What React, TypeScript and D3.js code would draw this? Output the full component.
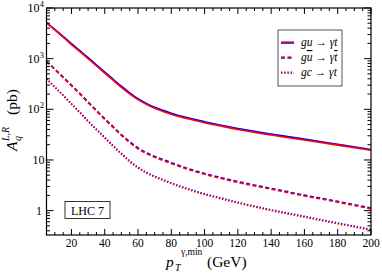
import React from "react";
import * as d3 from "d3";

const ptValues = [5, 10, 15, 20, 25, 30, 35, 40, 45, 50, 55, 60, 65, 70, 75, 80, 90, 100, 110, 120, 140, 160, 180, 200];

const guRed = [5100, 3700, 2650, 1900, 1380, 1000, 720, 520, 375, 272, 202, 155, 125, 105, 91, 80, 65, 54.5, 46.5, 40, 31, 24.7, 19.6, 15.5];
const guBlue = [5150, 3780, 2740, 1980, 1440, 1050, 755, 545, 393, 286, 212, 162, 131, 110, 95.5, 84, 68, 57, 48.5, 41.8, 32.4, 25.8, 20.4, 16.1];

const gubarRed = [880, 610, 420, 290, 200, 135, 92, 63, 44, 30.5, 22, 16.6, 13.4, 11.3, 9.8, 8.5, 6.5, 5.2, 4.3, 3.6, 2.65, 1.95, 1.47, 1.08];
const gubarBlue = [890, 625, 433, 300, 207, 140, 95.5, 65.5, 45.8, 31.7, 22.9, 17.3, 13.9, 11.7, 10.2, 8.85, 6.75, 5.4, 4.46, 3.74, 2.75, 2.02, 1.52, 1.12];

const gcRed = [400, 270, 185, 125, 85, 57, 39, 27, 18.5, 13, 9.2, 6.9, 5.5, 4.6, 3.95, 3.4, 2.6, 2.07, 1.7, 1.41, 1.0, 0.74, 0.55, 0.41];
const gcBlue = [405, 276, 190, 129, 88, 59, 40.5, 28, 19.2, 13.5, 9.6, 7.2, 5.7, 4.78, 4.1, 3.53, 2.7, 2.15, 1.77, 1.46, 1.04, 0.77, 0.57, 0.425];

const xMajorTicks = [20, 40, 60, 80, 100, 120, 140, 160, 180, 200];
const yDecades = [1, 10, 100, 1000, 10000];

const W = 382;
const H = 273;
const L = 46.5, R = 371, T = 8, B = 235;
const FONT = "'Liberation Serif', 'Times New Roman', 'DejaVu Serif', serif";

export default function App() {
  const x = d3.scaleLinear().domain([5, 200]).range([L, R]);
  const y = d3.scaleLog().domain([0.33, 1e4]).range([B, T]);

  const mk = (vals: number[]) =>
    d3
      .line<number>()
      .x((_, i) => x(ptValues[i]))
      .y((v) => y(v))
      .curve(d3.curveMonotoneX)(vals) as string;

  const xMinor: number[] = [];
  for (let v = 5; v <= 200; v += 5) if (v % 20 !== 0) xMinor.push(v);
  const yMinor: number[] = [];
  [0.1, 1, 10, 100, 1000].forEach((d) => {
    for (let k = 2; k <= 9; k++) {
      const v = d * k;
      if (v >= 0.33 && v <= 1e4) yMinor.push(v);
    }
  });

  const series = [
    { red: guRed, blue: guBlue, dash: undefined },
    { red: gubarRed, blue: gubarBlue, dash: "4,2.5" },
    { red: gcRed, blue: gcBlue, dash: "1.4,1.8" },
  ];

  const legendY = [42, 57, 72];

  return (
    <svg width={W} height={H} style={{ display: "block", position: "absolute", left: 0, top: 0 }} fontFamily={FONT}>
      <rect x={0} y={0} width={W} height={H} fill="#fff" />
      <defs>
        <clipPath id="plot">
          <rect x={L} y={T} width={R - L} height={B - T} />
        </clipPath>
      </defs>

      <g clipPath="url(#plot)">
        {series.map((s, i) => (
          <g key={i}>
            <path d={mk(s.blue)} fill="none" stroke="#0000ff" strokeWidth={1.6} strokeDasharray={s.dash} />
            <path d={mk(s.red)} fill="none" stroke="#ff0000" strokeWidth={1.6} strokeDasharray={s.dash} />
          </g>
        ))}
      </g>

      {/* ticks */}
      <g stroke="#000" strokeWidth={1}>
        {xMajorTicks.map((v) => (
          <g key={"xm" + v}>
            <line x1={x(v)} x2={x(v)} y1={B} y2={B - 6} />
            <line x1={x(v)} x2={x(v)} y1={T} y2={T + 6} />
          </g>
        ))}
        {xMinor.map((v) => (
          <g key={"xn" + v}>
            <line x1={x(v)} x2={x(v)} y1={B} y2={B - 3} />
            <line x1={x(v)} x2={x(v)} y1={T} y2={T + 3} />
          </g>
        ))}
        {yDecades.map((v) => (
          <g key={"ym" + v}>
            <line x1={L} x2={L + 7} y1={y(v)} y2={y(v)} />
            <line x1={R} x2={R - 7} y1={y(v)} y2={y(v)} />
          </g>
        ))}
        {yMinor.map((v) => (
          <g key={"yn" + v}>
            <line x1={L} x2={L + 3.5} y1={y(v)} y2={y(v)} />
            <line x1={R} x2={R - 3.5} y1={y(v)} y2={y(v)} />
          </g>
        ))}
      </g>

      <rect x={L} y={T} width={R - L} height={B - T} fill="none" stroke="#000" strokeWidth={1.2} />

      {/* x tick labels */}
      {xMajorTicks.map((v) => (
        <text key={"xl" + v} x={x(v)} y={246.5} fontSize={11.5} textAnchor="middle" fill="#000">
          {v}
        </text>
      ))}

      {/* y tick labels */}
      {yDecades.map((v) => {
        const e = Math.round(Math.log10(v));
        const yy = y(v) + 4;
        if (e === 0) return <text key="y0" x={42} y={yy} fontSize={12} textAnchor="end">1</text>;
        if (e === 1) return <text key="y1" x={44.5} y={yy} fontSize={12} textAnchor="end">10</text>;
        return (
          <g key={"y" + e}>
            <text x={39.5} y={yy} fontSize={12} textAnchor="end">10</text>
            <text x={39.8} y={yy - 5} fontSize={8.5}>{e}</text>
          </g>
        );
      })}

      {/* x title */}
      <text x={166} y={267} fontSize={15.5} fill="#000">
        <tspan fontStyle="italic">p</tspan>
      </text>
      <text x={175} y={270.5} fontSize={10} fontStyle="italic">T</text>
      <text x={181} y={254.5} fontSize={9.5}>γ,min</text>
      <text x={207} y={267} fontSize={15.5}>(GeV)</text>

      {/* y title */}
      <g transform="translate(17,151) rotate(-90)">
        <text x={0} y={0} fontSize={15.5} fontStyle="italic">A</text>
        <text x={10} y={4} fontSize={10} fontStyle="italic">q</text>
        <text x={10} y={-8} fontSize={10} fontStyle="italic">L,R</text>
        <text x={36} y={0} fontSize={15.5}>(pb)</text>
      </g>

      {/* legend */}
      <rect x={278} y={30} width={64} height={56} fill="#fff" stroke="#555" strokeWidth={1} />
      {series.map((s, i) => (
        <g key={"lg" + i}>
          <line x1={281} x2={294} y1={legendY[i] + 1} y2={legendY[i] + 1} stroke="#0000ff" strokeWidth={1.6} strokeDasharray={s.dash} />
          <line x1={281} x2={294} y1={legendY[i]} y2={legendY[i]} stroke="#ff0000" strokeWidth={1.6} strokeDasharray={s.dash} opacity={0.8} />
        </g>
      ))}
      <text x={301} y={legendY[0] + 4} fontSize={11.5} fontStyle="italic">gu → γt</text>
      <text x={301} y={legendY[1] + 4} fontSize={11.5} fontStyle="italic">
        g<tspan textDecoration="overline">u</tspan> → γ<tspan textDecoration="overline">t</tspan>
      </text>
      <text x={301} y={legendY[2] + 4} fontSize={11.5} fontStyle="italic">gc → γt</text>

      {/* LHC 7 box */}
      <rect x={65} y={201.5} width={45} height={17} fill="#fff" stroke="#333" strokeWidth={1} />
      <text x={87.5} y={214.5} fontSize={12} textAnchor="middle">LHC 7</text>
    </svg>
  );
}
